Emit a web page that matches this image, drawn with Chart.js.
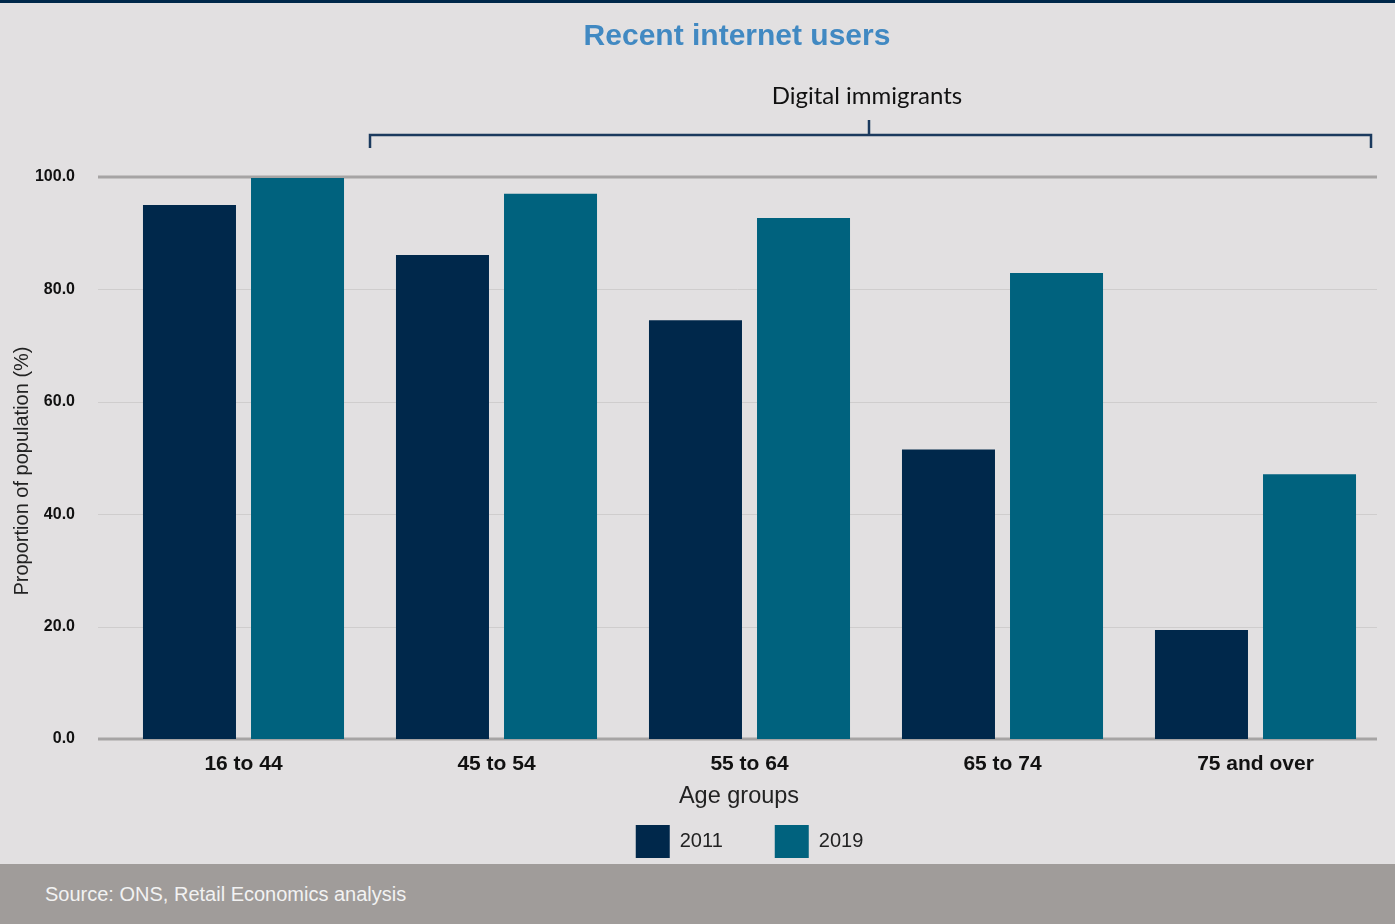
<!DOCTYPE html>
<html>
<head>
<meta charset="utf-8">
<title>Recent internet users</title>
<script src="https://cdn.jsdelivr.net/npm/chart.js@4.4.1/dist/chart.umd.min.js"></script>
<style>
    html, body { margin: 0; padding: 0; background: #e2e0e1; }
    #wrap { position: relative; width: 1395px; height: 924px; overflow: hidden; }
    #topline { position: absolute; left: 0; top: 0; width: 1395px; height: 3px; background: #00284a; }
    #chart { position: absolute; left: 0; top: 0; }
    #footer { position: absolute; left: 0; top: 864px; width: 1395px; height: 60px; background: #a09c9a;
              color: #f2f2f2; font: 20px "Liberation Sans", Arial, sans-serif; }
    #footer span { position: absolute; left: 45px; top: 19px; }
</style>
</head>
<body>
<div id="wrap">
    <canvas id="chart" width="1395" height="864"></canvas>
    <div id="topline"></div>
    <div id="footer"><span>Source: ONS, Retail Economics analysis</span></div>
</div>
<script>
// data
const ageGroups = ['16 to 44', '45 to 54', '55 to 64', '65 to 74', '75 and over'];
const users2011 = [95.0, 86.1, 74.5, 51.5, 19.4];
const users2019 = [99.8, 97.0, 92.7, 82.9, 47.1];
const seriesNames = ['2011', '2019'];
const yTickValues = [0, 20, 40, 60, 80, 100];

const colors = {
    y2011: '#00284b',
    y2019: '#00627e',
    title: '#4189c2',
    bracket: '#1b3a5e',
    axis: '#a6a4a4',
    grid: '#cfcdcd'
};

const SANS = '"Liberation Sans", Arial, sans-serif';
const SOFT = 'Lato, "Open Sans", sans-serif';

// gridlines run a bit wider than the category area
const gridLines = {
    id: 'gridLines',
    beforeDatasetsDraw(chart) {
        const ctx = chart.ctx;
        const y = chart.scales.y;
        ctx.save();
        yTickValues.forEach(v => {
            const py = Math.round(y.getPixelForValue(v));
            const strong = v === 0 || v === 100;
            ctx.strokeStyle = strong ? colors.axis : colors.grid;
            ctx.lineWidth = strong ? 3 : 1;
            ctx.beginPath();
            ctx.moveTo(98, py + (strong ? 0 : 0.5));
            ctx.lineTo(1377, py + (strong ? 0 : 0.5));
            ctx.stroke();
        });
        ctx.restore();
    }
};

const annotations = {
    id: 'annotations',
    afterDraw(chart) {
        const ctx = chart.ctx;
        const x = chart.scales.x;
        ctx.save();

        // title
        ctx.fillStyle = colors.title;
        ctx.font = 'bold 30px ' + SANS;
        ctx.textAlign = 'center';
        ctx.textBaseline = 'middle';
        ctx.fillText('Recent internet users', 737, 37);

        // digital immigrants bracket, from the 1st/2nd category boundary
        const left = Math.round((x.getPixelForValue(0) + x.getPixelForValue(1)) / 2);
        const right = 1371;
        const mid = 869;
        const by = 135;
        ctx.strokeStyle = colors.bracket;
        ctx.lineWidth = 2.5;
        ctx.beginPath();
        ctx.moveTo(left, by + 13);
        ctx.lineTo(left, by);
        ctx.lineTo(right, by);
        ctx.lineTo(right, by + 13);
        ctx.moveTo(mid, by);
        ctx.lineTo(mid, by - 15);
        ctx.stroke();

        ctx.fillStyle = '#111';
        ctx.font = '24px ' + SOFT;
        ctx.fillText('Digital immigrants', 867, 96);

        // x axis title
        ctx.fillStyle = '#222';
        ctx.font = '23.5px ' + SANS;
        ctx.fillText('Age groups', 739, 797);

        // y axis title
        ctx.translate(22, 471);
        ctx.rotate(-Math.PI / 2);
        ctx.font = '20px ' + SANS;
        ctx.fillText('Proportion of population (%)', 0, 0);

        ctx.restore();
    }
};

new Chart(document.getElementById('chart').getContext('2d'), {
    type: 'bar',
    data: {
        labels: ageGroups,
        datasets: [{
            label: seriesNames[0],
            data: users2011,
            backgroundColor: colors.y2011,
            categoryPercentage: 0.854,
            barPercentage: 0.861
        }, {
            label: seriesNames[1],
            data: users2019,
            backgroundColor: colors.y2019,
            categoryPercentage: 0.854,
            barPercentage: 0.861
        }]
    },
    options: {
        responsive: false,
        animation: false,
        layout: {
            padding: { left: 0, right: 13, top: 177, bottom: -4 }
        },
        scales: {
            x: {
                grid: { display: false, drawTicks: false },
                border: { display: false },
                ticks: {
                    color: '#111',
                    padding: 13,
                    font: { family: SANS, size: 21, weight: 'bold' }
                },
                afterFit(scale) { scale.height = 34; }
            },
            y: {
                min: 0,
                max: 100,
                grid: { display: false, drawTicks: false },
                border: { display: false },
                ticks: {
                    stepSize: 20,
                    color: '#111',
                    padding: 42,
                    font: { family: SANS, size: 16, weight: 'bold' },
                    callback: v => v.toFixed(1)
                },
                afterFit(scale) { scale.width = 117; }
            }
        },
        plugins: {
            title: { display: false },
            tooltip: { enabled: false },
            legend: {
                position: 'bottom',
                fullSize: false,
                labels: {
                    boxWidth: 34,
                    boxHeight: 33,
                    padding: 52,
                    color: '#222',
                    font: { family: SANS, size: 20 }
                }
            }
        }
    },
    plugins: [gridLines, annotations]
});
</script>
</body>
</html>
